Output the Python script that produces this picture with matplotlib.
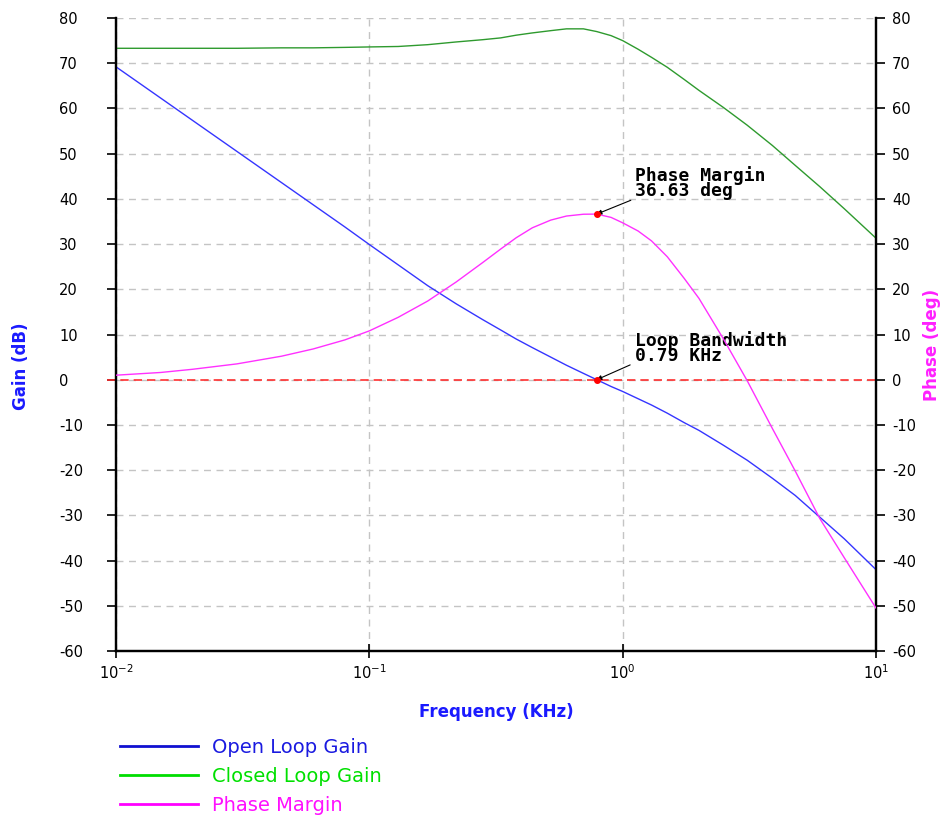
import matplotlib
matplotlib.use("Agg")
import matplotlib.pyplot as plt
from matplotlib.lines import Line2D

# Données
frequences = [0.01, 0.015, 0.02, 0.03, 0.045, 0.06, 0.08, 0.1, 0.13, 0.17,
              0.22, 0.28, 0.33, 0.38, 0.44, 0.52, 0.6, 0.7, 0.79, 0.9,
              1.0, 1.15, 1.3, 1.5, 1.75, 2.0, 2.5, 3.1, 3.9, 4.8,
              6.0, 7.5, 10.0]
gain_boucle_ouverte = [69.2, 62.3, 57.4, 50.5, 43.6, 38.7, 33.8, 29.9, 25.4, 20.8,
                       16.8, 13.3, 11.0, 9.0, 7.1, 5.0, 3.2, 1.4, 0.0, -1.5,
                       -2.6, -4.2, -5.6, -7.4, -9.5, -11.2, -14.5, -17.8, -21.8, -25.6,
                       -30.4, -35.2, -42.0]
gain_boucle_fermee = [73.3, 73.3, 73.3, 73.3, 73.4, 73.4, 73.5, 73.6, 73.7, 74.1,
                      74.7, 75.2, 75.6, 76.2, 76.7, 77.2, 77.6, 77.6, 77.0, 76.1,
                      75.0, 73.1, 71.3, 69.1, 66.4, 64.0, 60.2, 56.3, 51.8, 47.4,
                      42.7, 37.8, 31.3]
marge_phase = [1.0, 1.6, 2.3, 3.5, 5.2, 6.8, 8.8, 10.8, 13.8, 17.4,
               21.6, 25.9, 28.9, 31.4, 33.6, 35.3, 36.2, 36.6, 36.63, 35.9,
               34.7, 32.9, 30.7, 27.2, 22.4, 18.0, 9.0, -0.2, -10.8, -20.2,
               -30.7, -39.4, -50.5]

bande_passante = 0.79
marge = 36.63
graduations_y = list(range(-60, 81, 10))
legendes = ["Open Loop Gain", "Closed Loop Gain", "Phase Margin"]

plt.rcParams['font.family'] = ['DejaVu Sans']
plt.rcParams['axes.unicode_minus'] = False
plt.rcParams['mathtext.fontset'] = 'dejavusans'

fig = plt.figure(figsize=(9.42, 8.16), dpi=100)
ax = fig.add_axes([116 / 942, 1 - 651 / 816, 760 / 942, 633 / 816])
ax2 = ax.twinx()

# Courbes
ax.plot(frequences, gain_boucle_ouverte, color='#3535ff', lw=1.0, zorder=3)
ax.plot(frequences, gain_boucle_fermee, color='#2e9a2e', lw=1.0, zorder=3)
ax2.plot(frequences, marge_phase, color='#ff30ff', lw=1.0, zorder=3)

# Ligne rouge à 0 dB
ax.axhline(0, xmin=-0.012, xmax=1, color='#ff3030', lw=1.2,
           dashes=(5, 3), clip_on=False, zorder=2)

# Axes
for a in (ax, ax2):
    a.set_xscale('log')
    a.set_xlim(0.01, 10)
    a.set_ylim(-60, 80)
    a.set_yticks(graduations_y)
    a.spines['top'].set_visible(False)
    for s in ('left', 'right', 'bottom'):
        a.spines[s].set_linewidth(1.6)
ax.xaxis.set_minor_locator(matplotlib.ticker.NullLocator())
ax.tick_params(axis='y', direction='out', length=6.5, width=1.2, labelsize=10.5, pad=34.5)
for lab in ax.get_yticklabels():
    lab.set_horizontalalignment('left')
ax2.tick_params(axis='y', direction='out', length=6.5, width=1.2, labelsize=10.5, pad=5)
ax.tick_params(axis='x', direction='inout', length=10, width=1.2, labelsize=10.5, pad=4)

# Grille
ax.grid(True, which='major', color='#c4c4c4', lw=1.0, dashes=(5, 4))

# Titres des axes
ax.set_xlabel('Frequency (KHz)', color='#1a1aff', fontsize=12, fontweight='bold', labelpad=15)
ax.set_ylabel('Gain (dB)', color='#1a1aff', fontsize=12, fontweight='bold')
ax.yaxis.set_label_coords(-0.113, 0.45)
ax2.set_ylabel('Phase (deg)', color='#ff20ff', fontsize=12, fontweight='bold')
ax2.yaxis.set_label_coords(1.062, 0.483)

# Points et annotations
ax.plot([bande_passante], [0], 'o', color='red', ms=4, zorder=5)
ax2.plot([bande_passante], [marge], 'o', color='red', ms=4, zorder=5)
ax.annotate('Loop Bandwidth\n%.2f KHz' % bande_passante, xy=(bande_passante, 0),
            xytext=(38, 49), textcoords='offset pixels', fontsize=13,
            family='DejaVu Sans Mono', fontweight='bold', linespacing=0.8,
            va='top', ha='left',
            arrowprops=dict(arrowstyle='-|>', color='black', lw=0.8,
                            mutation_scale=7, shrinkA=0, shrinkB=0,
                            relpos=(-0.03, 0.0)))
ax2.annotate('Phase Margin\n%.2f deg' % marge, xy=(bande_passante, marge),
             xytext=(38, 48), textcoords='offset pixels', fontsize=13,
             family='DejaVu Sans Mono', fontweight='bold', linespacing=0.8,
             va='top', ha='left',
             arrowprops=dict(arrowstyle='-|>', color='black', lw=0.8,
                             mutation_scale=7, shrinkA=0, shrinkB=0,
                             relpos=(-0.03, 0.0)))

# Légende
poignees = [Line2D([], [], color='#1010d0', lw=2),
            Line2D([], [], color='#00dd00', lw=2),
            Line2D([], [], color='#ff00ff', lw=2)]
fig.legend(poignees, legendes, loc='upper left', bbox_to_anchor=(120 / 942, 1 - 738 / 816),
           frameon=False, fontsize=14, handlelength=4.0, handletextpad=0.72,
           labelspacing=0.52, borderpad=0, borderaxespad=0,
           labelcolor=['#1a1ae0', '#00e000', '#ff10ff'])

fig.savefig('out.png', dpi=100)
